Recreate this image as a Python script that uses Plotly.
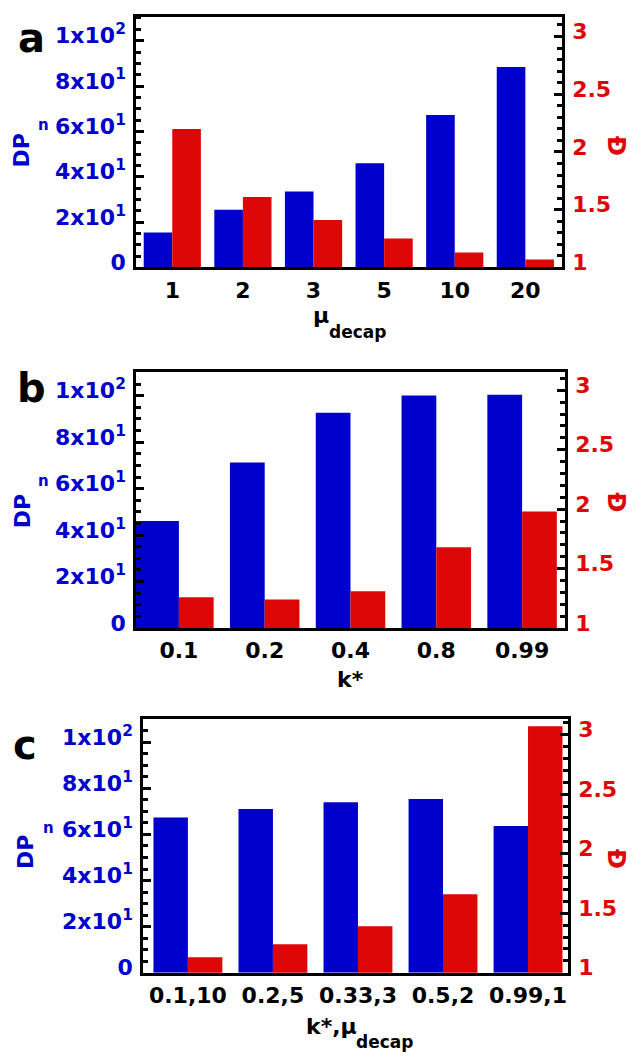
import plotly.graph_objects as go

# ---------------- data ----------------
cats_a = ["1", "2", "3", "5", "10", "20"]
dpn_a = [15.4, 25.5, 33.5, 45.9, 67.2, 88.4]
disp_a = [2.20, 1.61, 1.41, 1.25, 1.13, 1.07]

cats_b = ["0.1", "0.2", "0.4", "0.8", "0.99"]
dpn_b = [46.1, 71.3, 92.7, 100.1, 100.4]
disp_b = [1.26, 1.24, 1.31, 1.68, 1.98]

cats_c = ["0.1,10", "0.2,5", "0.33,3", "0.5,2", "0.99,1"]
dpn_c = [67.4, 71.0, 74.0, 75.4, 63.7]
disp_c = [1.13, 1.24, 1.39, 1.66, 3.07]

left_tickvals = [0, 20, 40, 60, 80, 100]
left_ticktext = ["0", "2x10<sup>1</sup>", "4x10<sup>1</sup>", "6x10<sup>1</sup>",
                 "8x10<sup>1</sup>", "1x10<sup>2</sup>"]
right_tickvals = [1, 1.5, 2, 2.5, 3]
right_ticktext = ["1", "1.5", "2", "2.5", "3"]

# ---------------- style ----------------
W, H = 644, 1061
BLUE = "#0000CC"
RED = "#DD0707"
FONT = "DejaVu Sans"
BW = 0.405  # bar width in category units

# panel pixel boxes: (x0, x1, ytop, ybottom)
boxes = {
    "a": (136, 562, 15, 268),
    "b": (136, 565, 374, 632),
    "c": (143, 568, 724, 980),
}
xranges = {"a": [-0.514, 5.519], "b": [-0.5, 4.5], "c": [-0.528, 4.47]}
lranges = {"a": [0, 110.5], "b": [0, 110], "c": [0, 110]}
rranges = {"a": [1, 3.17], "b": [1, 3.15], "c": [1, 3.13]}


def xd(px0, px1):
    return [px0 / W, px1 / W]


def yd(top, bot):
    return [1 - bot / H, 1 - top / H]


fig = go.Figure()

panels = [("a", cats_a, dpn_a, disp_a), ("b", cats_b, dpn_b, disp_b), ("c", cats_c, dpn_c, disp_c)]

layout = dict(
    width=W, height=H, margin=dict(l=0, r=0, t=0, b=0),
    paper_bgcolor="white", plot_bgcolor="white", showlegend=False,
    font=dict(family=FONT, size=22, color="black", weight="bold"),
    barmode="overlay",
)

for i, (key, cats, dpn, disp) in enumerate(panels):
    xn = "" if i == 0 else str(i + 1)
    yl = str(2 * i + 1) if i > 0 else ""
    yr = str(2 * i + 2)
    bw_blue = [BW] * len(cats)
    if key == "b":
        bw_blue[0] = 0.51
    fig.add_trace(go.Bar(x=cats, y=dpn, xaxis="x" + xn, yaxis="y" + yl,
                         marker=dict(color=BLUE, line=dict(width=0)),
                         width=bw_blue, offset=[-w for w in bw_blue]))
    fig.add_trace(go.Bar(x=cats, y=disp, xaxis="x" + xn, yaxis="y" + yr,
                         marker=dict(color=RED, line=dict(width=0)),
                         width=BW, offset=0, base=0))
    x0, x1, yt, yb = boxes[key]
    layout["xaxis" + xn] = dict(
        domain=xd(x0, x1), anchor="y" + yl, type="category", range=xranges[key],
        showline=True, linecolor="black", linewidth=2.5, mirror=True,
        ticks="", showgrid=False, zeroline=False,
        tickfont=dict(family=FONT, size=22, color="black", weight="bold"),
        ticklabelstandoff=1,
    )
    layout["yaxis" + yl] = dict(
        domain=yd(yt, yb), anchor="x" + xn, range=lranges[key],
        tickvals=left_tickvals, ticktext=left_ticktext,
        ticks="inside", ticklen=8, tickwidth=2.5, tickcolor="black",
        minor=dict(dtick=5, tick0=0, ticks="inside", ticklen=5, tickwidth=2.5, tickcolor="black", showgrid=False),
        showline=True, linecolor="black", linewidth=2.5,
        showgrid=False, zeroline=False,
        tickfont=dict(family=FONT, size=22, color=BLUE, weight="bold"),
        ticklabelstandoff=3, ticklabelshift=-5,
    )
    layout["yaxis" + yr] = dict(
        domain=yd(yt, yb), anchor="x" + xn, overlaying="y" + yl, side="right",
        range=rranges[key],
        tickvals=right_tickvals, ticktext=right_ticktext,
        ticks="inside", ticklen=8, tickwidth=2.5, tickcolor="black",
        minor=dict(dtick=0.1, tick0=1, ticks="inside", ticklen=5, tickwidth=2.5, tickcolor="black", showgrid=False),
        showline=True, linecolor="black", linewidth=2.5,
        showgrid=False, zeroline=False,
        tickfont=dict(family=FONT, size=22, color=RED, weight="bold"),
        ticklabelstandoff=3, ticklabelshift=-5,
    )

fig.update_layout(**layout)


def ann(text, px, py, size, color="black", angle=0):
    fig.add_annotation(text=text, x=px / W, y=1 - py / H, xref="paper", yref="paper",
                       showarrow=False, xanchor="center", yanchor="middle", textangle=angle,
                       font=dict(family=FONT, size=size, color=color, weight="bold"))


# panel letters
ann("a", 31, 36, 40)
ann("b", 31, 390, 40)
ann("c", 25, 750, 40)

# left axis titles DP_n
for (dx, dy, nx, ny) in [(22, 150, 43, 124), (22, 514, 43, 484), (26, 858, 48, 834)]:
    ann("DP", dx, dy, 22, BLUE, -90)
    ann("n", nx, ny, 15, BLUE, 0)

# right axis titles Đ
for dy in [145, 505, 865]:
    ann("Đ", 616, dy, 24, RED, 90)

# x axis titles
ann("μ", 321, 316, 22)
ann("decap", 357, 333, 17)
ann("k*", 350, 684, 22)
ann("k*,μ", 331, 1034, 22)
ann("decap", 384, 1050, 17)

post = (
    "var de=document.documentElement, b=document.body;"
    "de.style.margin='0';de.style.padding='0';de.style.overflow='hidden';"
    "b.style.margin='0';b.style.padding='0';b.style.overflow='hidden';"
    "b.style.fontSize='0';b.style.lineHeight='0';"
    "var gd=document.getElementById('{plot_id}');"
    "gd.style.position='absolute';gd.style.left='0px';gd.style.top='0px';"
)

fig.write_html("out.html", config={"displayModeBar": False}, post_script=post)
